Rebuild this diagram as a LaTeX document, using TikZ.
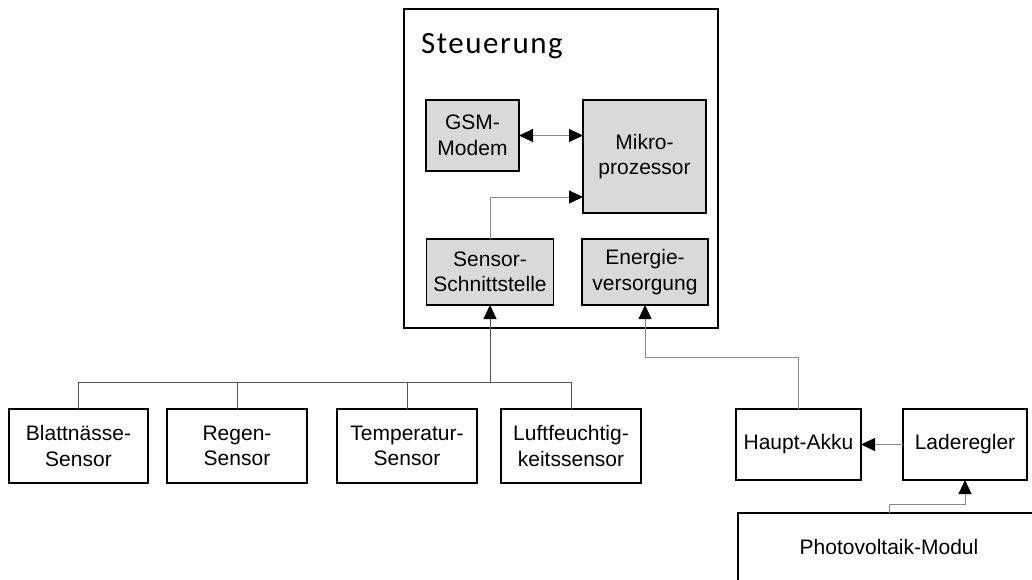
\documentclass[tikz,border=0pt]{standalone}
\usepackage{fontspec}
\setmainfont{Liberation Sans}
\newfontfamily\titlefont[LetterSpace=5]{Carlito}
\usetikzlibrary{arrows.meta}
\definecolor{boxgray}{HTML}{D9D9D9}
\definecolor{wiredark}{HTML}{555555}
\definecolor{wirelight}{HTML}{8A8A8A}
\begin{document}
\begin{tikzpicture}[x=1pt,y=-1pt,
  every node/.style={font=\fontsize{21}{25.5}\selectfont, align=center, inner sep=0pt, outer sep=0pt},
  block/.style={draw=black, line width=1.8pt, rectangle},
  inner/.style={block, fill=boxgray},
  tip/.style={-{Triangle[length=14pt,width=13pt,color=black]}},
  bitip/.style={{Triangle[length=14pt,width=13pt,color=black]}-{Triangle[length=14pt,width=13pt,color=black]}},
  wire/.style={draw=wirelight, line width=1pt},
  bus/.style={draw=wiredark, line width=1pt}]
\useasboundingbox (0,0) rectangle (1032,579);

% control unit with its modules
\node[block, minimum width=314pt, minimum height=319pt] (steu) at (561,168.5) {};
\node[anchor=base west, font=\titlefont\fontsize{31}{36}\selectfont] (title) at (421,53) {Steuerung};
\node[inner, minimum width=93pt, minimum height=71pt] (gsm) at (472.5,135.5) {GSM-\\Modem};
\node[inner, minimum width=123pt, minimum height=113pt] (mikro) at (644.5,156.5) {Mikro-\\prozessor};
\node[inner, minimum width=127pt, minimum height=66pt] (sens) at (490,272) {Sensor-\\Schnittstelle};
\node[inner, minimum width=126pt, minimum height=66pt] (energ) at (645,272) {Energie-\\versorgung};

% sensors
\node[block, minimum width=139pt, minimum height=74pt] (s1) at (78.5,446) {Blattnässe-\\Sensor};
\node[block, minimum width=140pt, minimum height=74pt] (s2) at (237,446) {Regen-\\Sensor};
\node[block, minimum width=140pt, minimum height=74pt] (s3) at (407,446) {Temperatur-\\Sensor};
\node[block, minimum width=140pt, minimum height=74pt] (s4) at (571,446) {Luftfeuchtig-\\keitssensor};

% power supply chain
\node[block, minimum width=125pt, minimum height=71pt] (akku) at (798.5,444.5) {Haupt-Akku};
\node[block, minimum width=124pt, minimum height=71pt] (lade) at (965,444.5) {Laderegler};
\node[block, minimum width=302pt, minimum height=68pt] (pv) at (889,547) {Photovoltaik-Modul};

% connections inside the control unit
\draw[wire, bitip] (gsm.east) -- (gsm.east -| mikro.west);
\draw[wire, tip] (sens.north) |- ([yshift=-40.5pt]mikro.west);

% sensor bus
\coordinate (bus) at (490,382);
\draw[bus] (s1.north |- bus) -- (s4.north |- bus);
\foreach \s in {s1,s2,s3,s4} \draw[bus] (\s.north) -- (\s.north |- bus);
\draw[bus, tip] (sens.south |- bus) -- (sens.south);

% power connections
\draw[wire, tip] (akku.north) |- ([yshift=-52pt]energ.south) -- (energ.south);
\draw[wire, tip] (lade.west) -- (akku.east);
\draw[wire, tip] (pv.north) |- ([yshift=-24pt]lade.south) -- (lade.south);
\end{tikzpicture}
\end{document}
